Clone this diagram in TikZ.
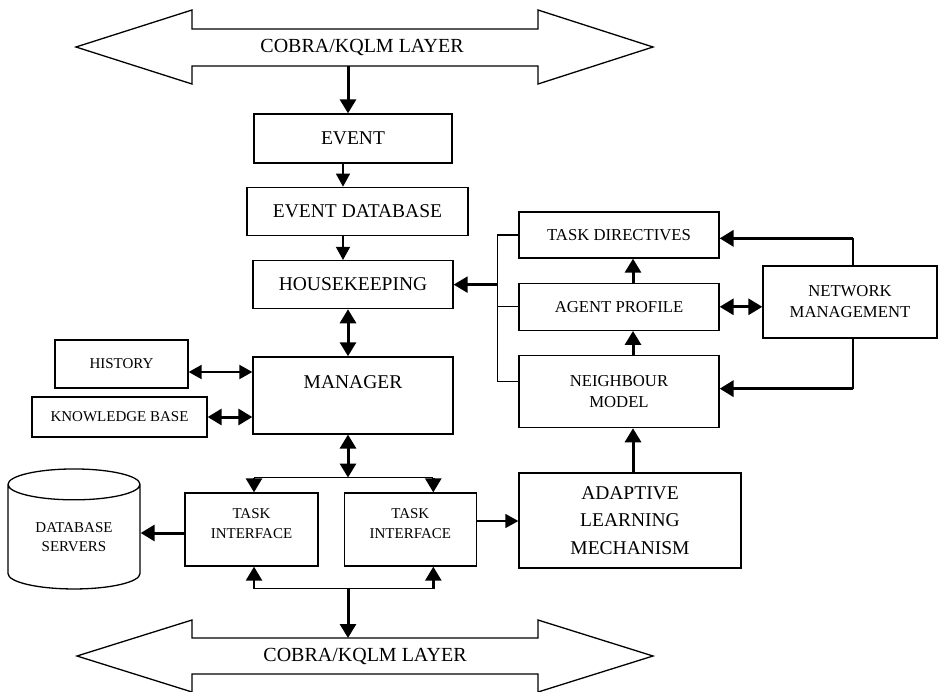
\documentclass[tikz,border=0pt]{standalone}
\usepackage{fontspec}
\setmainfont{Liberation Serif}
\usetikzlibrary{arrows.meta,positioning,shapes.geometric}
\tikzset{
  bblock/.style = {rectangle, draw=black, line width=1.3pt, align=center,
                   inner sep=0pt, font=\fontsize{19.5}{26}\selectfont},
  mblock/.style = {rectangle, draw=black, line width=1.3pt, align=center,
                   inner sep=0pt, font=\fontsize{16.7}{21}\selectfont},
  sblock/.style = {rectangle, draw=black, line width=1.3pt, align=center,
                   inner sep=0pt, font=\fontsize{15}{20}\selectfont},
  layer/.style  = {draw=black, line width=1.3pt},
  line/.style   = {line width=1.3pt},
  arr/.style    = {-{Triangle[length=13pt,width=14pt]}, line width=1.3pt},
  tarr/.style   = {-{Triangle[length=14pt,width=16pt]}, line width=3pt},
  darr/.style   = {{Triangle[length=13pt,width=14pt]}-{Triangle[length=13pt,width=14pt]}, line width=2pt},
  tdarr/.style  = {{Triangle[length=14pt,width=16pt]}-{Triangle[length=14pt,width=16pt]}, line width=3pt},
}

\begin{document}
\begin{tikzpicture}[x=1pt, y=-1pt]
\useasboundingbox (0,0) rectangle (940,691);

%% COBRA/KQLM layers
\draw[layer] (76,47) -- (192,10) -- (192,29) -- (538,29) -- (538,10) -- (653,47)
  -- (538,84) -- (538,66) -- (192,66) -- (192,84) -- cycle;
\node[font=\fontsize{20}{24}\selectfont] (toplayer) at (362,47) {COBRA/KQLM LAYER};
\coordinate (topout) at (348,66);

\draw[layer] (77,656) -- (192,620) -- (192,638) -- (538,638) -- (538,620) -- (653,656)
  -- (538,692) -- (538,674) -- (192,674) -- (192,692) -- cycle;
\node[font=\fontsize{20}{24}\selectfont] (botlayer) at (365,656) {COBRA/KQLM LAYER};
\coordinate (botin) at (348,638);

%% Centre column
\node[bblock, minimum width=198pt, minimum height=49pt] (event) at (353,138.5) {EVENT};
\node[bblock, minimum width=221pt, minimum height=48pt, below=23pt of event, xshift=4.5pt] (edb) {EVENT DATABASE};
\node[bblock, minimum width=200pt, minimum height=48pt, below=24pt of edb, xshift=-4.5pt] (hk) {HOUSEKEEPING};
\node[bblock, minimum width=200pt, minimum height=77pt, below=47pt of hk] (man) {MANAGER\\\mbox{}};

\node[sblock, minimum width=133pt, minimum height=48pt] (hist) at (121.5,364) {HISTORY};
\node[sblock, minimum width=175pt, minimum height=40pt] (kb) at (119.5,417) {KNOWLEDGE BASE};

\node[sblock, minimum width=133pt, minimum height=73pt] (ti1) at (251.5,529.5) {TASK\\INTERFACE\\[-8pt]\mbox{}};
\node[sblock, minimum width=132pt, minimum height=73pt, right=25pt of ti1] (ti2) {TASK\\INTERFACE\\[-8pt]\mbox{}};
\node[cylinder, shape border rotate=90, draw=black, line width=1.3pt, aspect=0.4,
      minimum width=132pt, minimum height=120pt, inner sep=0pt, align=center,
      font=\fontsize{15}{19}\selectfont] (db) at (74,537) {DATABASE\\SERVERS};

%% Right column
\node[mblock, minimum width=200pt, minimum height=46pt] (td) at (619,235) {TASK DIRECTIVES};
\node[mblock, minimum width=200pt, minimum height=47pt, below=24pt of td] (ap) {AGENT PROFILE};
\node[mblock, minimum width=200pt, minimum height=72pt, below=24pt of ap] (nmod) {NEIGHBOUR\\MODEL};
\node[mblock, minimum width=174pt, minimum height=72pt] (nm) at (850,302) {NETWORK\\MANAGEMENT};
\node[bblock, minimum width=222pt, minimum height=95pt, below=44pt of nmod, xshift=11pt,
      font=\fontsize{19.5}{27.5}\selectfont] (adapt) {ADAPTIVE\\LEARNING\\MECHANISM};

%% Arrows: centre column
\draw[tarr] (topout) -- (topout |- event.north);
\draw[arr] ([xshift=-10pt]event.south) -- ([xshift=-10pt]event.south |- edb.north);
\draw[arr] ([xshift=-10pt]event.south |- edb.south) -- ([xshift=-10pt]event.south |- hk.north);
\draw[tdarr] ([xshift=-5pt]hk.south) -- ([xshift=-5pt]man.north);
\draw[darr] ([yshift=-8pt]hist.east) -- ([yshift=-8pt]hist.east -| man.west);
\draw[tdarr] (kb.east) -- (kb.east -| man.west);

%% Arrows: task interfaces
\draw[tdarr] ([xshift=-5pt]man.south) -- ++(0,43) coordinate (split);
\draw[line] ([xshift=2.5pt]ti1.north |- split) -- ([xshift=23pt]ti2.north |- split);
\draw[tarr, line width=2.5pt] ([xshift=2.5pt]ti1.north |- split) -- ([xshift=2.5pt]ti1.north);
\draw[tarr, line width=2.5pt] ([xshift=23pt]ti2.north |- split) -- ([xshift=23pt]ti2.north);
\path ([xshift=2.5pt]ti1.south) ++(0,22) coordinate (tl);
\path ([xshift=23pt]ti2.south) ++(0,22) coordinate (tr);
\draw[line] (tl) -- (tr);
\draw[tarr, line width=2.5pt] (tl) -- ([xshift=2.5pt]ti1.south);
\draw[tarr, line width=2.5pt] (tr) -- ([xshift=23pt]ti2.south);
\draw[tarr] (split |- tl) -- (split |- botin);
\draw[tarr] ([yshift=4pt]ti1.west |- db.east) -- ([yshift=4pt]db.east);
\draw[arr] ([yshift=8.5pt]ti2.east) -- ([yshift=8.5pt]ti2.east -| adapt.west);

%% Arrows: right column
\draw[line] (td.west) -- ++(-21,0) coordinate (bus) |- ([yshift=10pt]nmod.west);
\draw[line] (ap.west) -- (ap.west -| bus);
\draw[tarr, line width=2.5pt] (bus |- hk.east) -- (hk.east);
\draw[tarr] ([xshift=14pt]ap.north) -- ([xshift=14pt]td.south);
\draw[tarr] ([xshift=14pt]nmod.north) -- ([xshift=14pt]ap.south);
\draw[tarr] ([xshift=3pt]adapt.north) -- ([xshift=3pt]adapt.north |- nmod.south);
\draw[tdarr] (ap.east) -- (ap.east -| nm.west);
\draw[line] ([xshift=3pt]nm.north) -- ++(0,-27) coordinate (nmtop);
\draw[tarr, line width=3.5pt] (nmtop) -- (nmtop -| td.east);
\draw[line] ([xshift=3pt]nm.south) -- ++(0,50) coordinate (nmbot);
\draw[tarr, line width=3.5pt] (nmbot) -- (nmbot -| nmod.east);

\end{tikzpicture}
\end{document}
